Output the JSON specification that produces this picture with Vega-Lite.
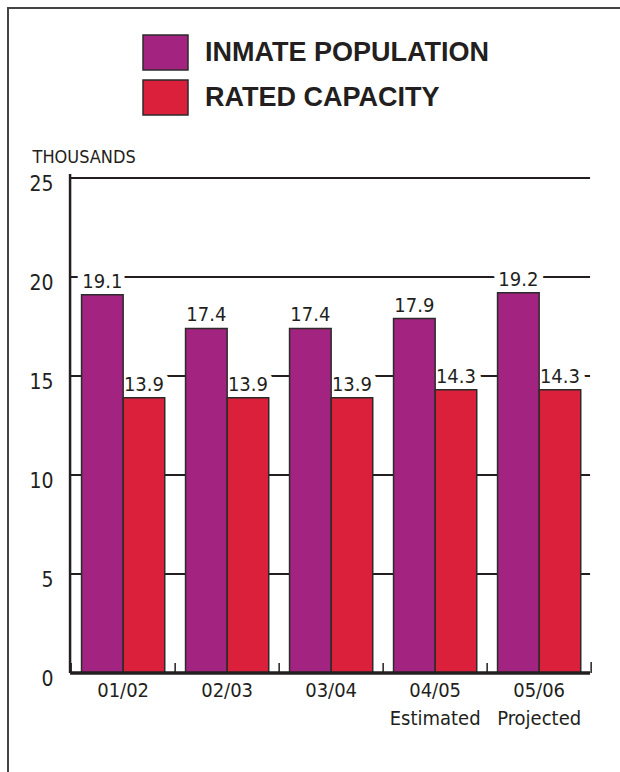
{
  "$schema": "https://vega.github.io/schema/vega-lite/v6.json",
  "autosize": {"type": "none"},
  "width": 612,
  "height": 764,
  "padding": {"left": 8, "top": 8, "right": 0, "bottom": 0},
  "background": "white",
  "view": {"stroke": "#444444", "strokeWidth": 2, "strokeDash": [612, 1376, 764]},
  "datasets": {
    "bars": [
      {"period": "01/02", "series": "INMATE POPULATION", "value": 19.1},
      {"period": "01/02", "series": "RATED CAPACITY", "value": 13.9},
      {"period": "02/03", "series": "INMATE POPULATION", "value": 17.4},
      {"period": "02/03", "series": "RATED CAPACITY", "value": 13.9},
      {"period": "03/04", "series": "INMATE POPULATION", "value": 17.4},
      {"period": "03/04", "series": "RATED CAPACITY", "value": 13.9},
      {"period": "04/05\nEstimated", "series": "INMATE POPULATION", "value": 17.9},
      {"period": "04/05\nEstimated", "series": "RATED CAPACITY", "value": 14.3},
      {"period": "05/06\nProjected", "series": "INMATE POPULATION", "value": 19.2},
      {"period": "05/06\nProjected", "series": "RATED CAPACITY", "value": 14.3}
    ],
    "grid": [{"v": 5}, {"v": 10}, {"v": 15}, {"v": 20}, {"v": 25}]
  },
  "layer": [
    {
      "data": {"name": "bars"},
      "mark": {"type": "bar", "opacity": 0},
      "encoding": {
        "x": {
          "field": "period",
          "type": "nominal",
          "sort": null,
          "scale": {"paddingInner": 0.2, "paddingOuter": 0.5423, "align": 0.652},
          "axis": {
            "orient": "bottom",
            "offset": -99,
            "title": null,
            "domain": false,
            "grid": false,
            "ticks": false,
            "tickSize": 0,
            "labelAngle": 0,
            "labelPadding": 7,
            "labelFont": "Liberation Sans Narrow, DejaVu Sans Condensed, Liberation Sans",
            "labelFontSize": 20,
            "labelLineHeight": 28,
            "labelColor": "#231f20",
            "labelExpr": "split(datum.value, '\\n')"
          }
        },
        "y": {
          "field": "value",
          "type": "quantitative",
          "scale": {"domain": [-5, 33.586], "nice": false, "zero": false},
          "axis": {
            "orient": "left",
            "offset": -62,
            "values": [0, 5, 10, 15, 20, 25],
            "domain": false,
            "ticks": false,
            "tickSize": 0,
            "grid": false,
            "labelPadding": 17,
            "labelOffset": 6,
            "labelFont": "Liberation Sans Narrow, DejaVu Sans Condensed, Liberation Sans",
            "labelFontSize": 21,
            "labelColor": "#231f20",
            "title": "THOUSANDS",
            "titleAngle": 0,
            "titleAlign": "left",
            "titleBaseline": "middle",
            "titleX": -38,
            "titleY": 149,
            "titleFont": "Liberation Sans Narrow, DejaVu Sans Condensed, Liberation Sans",
            "titleFontSize": 18,
            "titleFontWeight": "normal",
            "titleColor": "#231f20"
          }
        },
        "y2": {"datum": 0}
      }
    },
    {
      "data": {"name": "grid"},
      "mark": {"type": "rule", "color": "#231f20", "strokeWidth": 2},
      "encoding": {
        "y": {"field": "v", "type": "quantitative", "title": "THOUSANDS"},
        "x": {"datum": "01/02", "bandPosition": -0.138},
        "x2": {"datum": "05/06\nProjected", "bandPosition": 1.112}
      }
    },
    {
      "data": {"name": "bars"},
      "mark": {"type": "text", "font": "Liberation Sans Narrow, DejaVu Sans Condensed, Liberation Sans", "fontSize": 20, "baseline": "alphabetic", "dy": -7, "fill": "white", "stroke": "white", "strokeWidth": 13, "strokeJoin": "round"},
      "encoding": {
        "x": {"field": "period", "type": "nominal", "title": null},
        "xOffset": {"field": "series", "type": "nominal"},
        "y": {"field": "value", "type": "quantitative", "title": "THOUSANDS"},
        "text": {"field": "value", "type": "quantitative", "format": ".1f"}
      }
    },
    {
      "data": {"name": "bars"},
      "mark": {"type": "bar", "stroke": "#2b2b2b", "strokeWidth": 1.5},
      "encoding": {
        "x": {"field": "period", "type": "nominal", "title": null},
        "xOffset": {"field": "series", "type": "nominal", "scale": {"paddingInner": 0, "paddingOuter": 0}},
        "y": {"field": "value", "type": "quantitative", "title": "THOUSANDS"},
        "y2": {"datum": 0},
        "color": {
          "field": "series",
          "type": "nominal",
          "scale": {"domain": ["INMATE POPULATION", "RATED CAPACITY"], "range": ["#a32480", "#da203b"]},
          "legend": {
            "orient": "none",
            "legendX": 134,
            "legendY": 21,
            "title": null,
            "symbolType": "M-1,-0.778H1V0.778H-1Z",
            "symbolSize": 2025,
            "symbolStrokeColor": "#2b2b2b",
            "symbolStrokeWidth": 1.5,
            "symbolOpacity": 1,
            "labelFont": "Liberation Sans",
            "labelFontWeight": "bold",
            "labelFontSize": 27,
            "labelColor": "#231f20",
            "labelOffset": 16,
            "labelLimit": 0,
            "rowPadding": 0
          }
        }
      }
    },
    {
      "data": {"name": "bars"},
      "transform": [{"filter": "datum.series === 'INMATE POPULATION'"}],
      "mark": {"type": "rule", "color": "#231f20", "strokeWidth": 1.5},
      "encoding": {
        "x": {"field": "period", "type": "nominal", "bandPosition": -0.125, "title": null},
        "y": {"datum": 0, "title": "THOUSANDS"},
        "y2": {"datum": 0.5}
      }
    },
    {
      "data": {"values": [{}]},
      "mark": {"type": "rule", "color": "#231f20", "strokeWidth": 1.5},
      "encoding": {
        "x": {"datum": "05/06\nProjected", "bandPosition": 1.125},
        "y": {"datum": 0, "title": "THOUSANDS"},
        "y2": {"datum": 0.55}
      }
    },
    {
      "data": {"values": [{}]},
      "mark": {"type": "rule", "color": "#231f20", "strokeWidth": 2.5},
      "encoding": {
        "x": {"datum": "01/02", "bandPosition": -0.138},
        "y": {"datum": 0, "title": "THOUSANDS"},
        "y2": {"datum": 25.2}
      }
    },
    {
      "data": {"values": [{}]},
      "mark": {"type": "rule", "color": "#231f20", "strokeWidth": 3.5},
      "encoding": {
        "y": {"datum": 0, "title": "THOUSANDS"},
        "x": {"datum": "01/02", "bandPosition": -0.138},
        "x2": {"datum": "05/06\nProjected", "bandPosition": 1.112}
      }
    },
    {
      "data": {"name": "bars"},
      "mark": {"type": "text", "font": "Liberation Sans Narrow, DejaVu Sans Condensed, Liberation Sans", "fontSize": 20, "baseline": "alphabetic", "dy": -7, "fill": "#231f20"},
      "encoding": {
        "x": {"field": "period", "type": "nominal", "title": null},
        "xOffset": {"field": "series", "type": "nominal"},
        "y": {"field": "value", "type": "quantitative", "title": "THOUSANDS"},
        "text": {"field": "value", "type": "quantitative", "format": ".1f"}
      }
    }
  ]
}
